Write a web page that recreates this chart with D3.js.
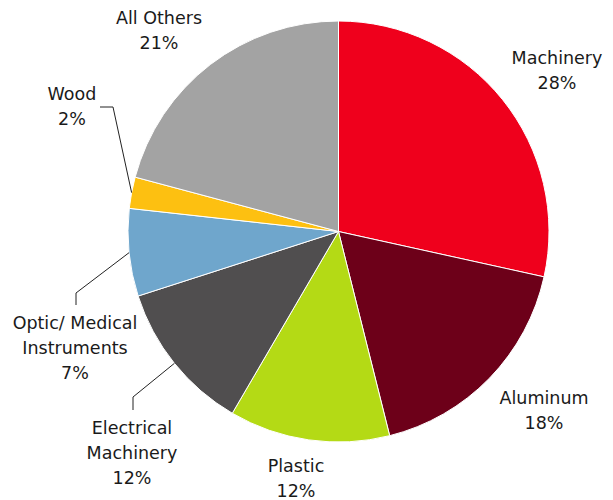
<!DOCTYPE html>
<html>
<head>
<meta charset="utf-8">
<script src="https://cdn.jsdelivr.net/npm/d3@7"></script>
<style>
  body { margin: 0; background: #fff; }
  svg text { font-family: "DejaVu Sans", sans-serif; font-size: 17.5px; fill: #1a1a1a; }
</style>
</head>
<body>
<svg id="svg" width="613" height="500"></svg>
<script>
// データ（12時から時計回り）
const categories = ["Machinery", "Aluminum", "Plastic", "Electrical Machinery",
  "Optic/ Medical Instruments", "Wood", "All Others"];
const shares = [28.4, 17.6, 12.3, 11.6, 6.7, 2.4, 20.8];
const colors = ["#ef001c", "#6d0019", "#b4da15", "#504e4f", "#6fa6cc", "#fdc011", "#a3a3a3"];

// ラベルの行と位置（中心x, 1行目のベースライン）
const labelLines = [
  ["Machinery"], ["Aluminum"], ["Plastic"], ["Electrical", "Machinery"],
  ["Optic/ Medical", "Instruments"], ["Wood"], ["All Others"]
];
const labelAt = [[557, 64], [544, 404], [296, 472], [132, 434], [75, 329], [72, 100], [159, 24]];
// 引き出し線（折れ点, 終点）。null は線なし
const leaders = [null, null, null, [[133, 397], [133, 410]], [[76, 293], [76, 305]],
  [[113, 107], [100, 107]], null];

const svg = d3.select("#svg");
const cx = 338.5, cy = 231.5, r = 210.5;

const pie = d3.pie().sort(null).value(d => d.v);
const data = categories.map((c, i) => ({ name: c, v: shares[i], i: i }));
const arcs = pie(data);

const arc = d3.arc().innerRadius(0).outerRadius(r);
const edge = d3.arc().innerRadius(r).outerRadius(r);

const g = svg.append("g").attr("transform", `translate(${cx},${cy})`);

g.selectAll("path.slice")
  .data(arcs)
  .join("path")
  .attr("class", "slice")
  .attr("d", arc)
  .attr("fill", d => colors[d.data.i])
  .attr("stroke", "#fff")
  .attr("stroke-width", 1);

// 引き出し線
arcs.forEach(d => {
  const l = leaders[d.data.i];
  if (!l) return;
  const p0 = edge.centroid(d);
  const pts = [[p0[0] + cx, p0[1] + cy], l[0], l[1]];
  svg.append("path")
    .attr("d", d3.line()(pts))
    .attr("fill", "none")
    .attr("stroke", "#222")
    .attr("stroke-width", 1);
});

// ラベル
arcs.forEach(d => {
  const i = d.data.i;
  const lines = labelLines[i].concat([Math.round(d.data.v) + "%"]);
  const t = svg.append("text")
    .attr("text-anchor", "middle")
    .attr("x", labelAt[i][0])
    .attr("y", labelAt[i][1]);
  lines.forEach((s, k) => {
    t.append("tspan")
      .attr("x", labelAt[i][0])
      .attr("dy", k == 0 ? 0 : 25)
      .text(s);
  });
});
</script>
</body>
</html>
